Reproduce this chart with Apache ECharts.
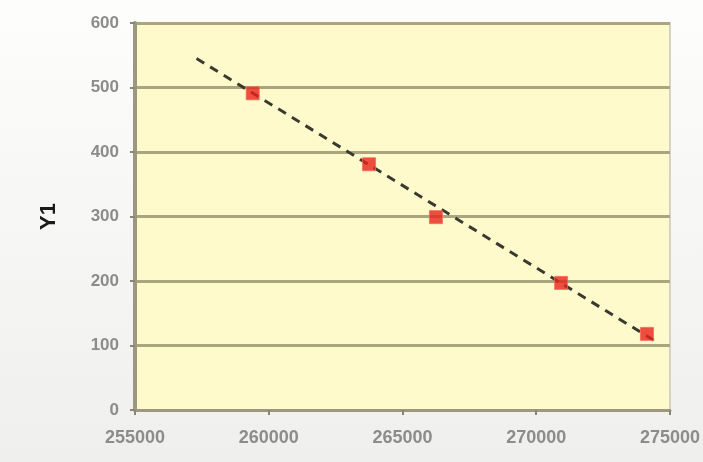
<!DOCTYPE html>
<html>
<head>
<meta charset="utf-8">
<script src="https://cdn.jsdelivr.net/npm/echarts@6/dist/echarts.min.js"></script>
<style>
html,body{margin:0;padding:0;background:#f7f7f5;}
#c{width:703px;height:462px;}
</style>
</head>
<body>
<div id="c"></div>
<script>
const xValues = [259400, 263750, 266250, 270930, 274140];
const yValues = [491, 381, 299, 197, 118];
const trendX = [257300, 274400];
const trendY = [545, 108];
const yTicks = [0, 100, 200, 300, 400, 500, 600];
const xTicks = [255000, 260000, 265000, 270000, 275000];

const chart = echarts.init(document.getElementById('c'));
chart.setOption({
  backgroundColor: {type:'linear', x:0, y:0, x2:0, y2:1, colorStops:[{offset:0,color:'#fdfdfc'},{offset:1,color:'#efefed'}]},
  animation: false,
  grid: {left:135, right:33, top:23, bottom:52, show:true, backgroundColor:'#fffacb', borderColor:'#d4d2c4', borderWidth:2},
  xAxis: {
    type:'value', min:xTicks[0], max:xTicks[xTicks.length-1], interval:5000,
    axisLine:{show:true, onZero:false, lineStyle:{color:'#9c9880', width:3}},
    axisTick:{show:true, length:5, lineStyle:{color:'#8a8670', width:2}},
    axisLabel:{color:'#8c8c8c', fontSize:18, fontFamily:'Liberation Sans', fontWeight:'bold', margin:19, formatter: v => String(v)},
    splitLine:{show:false}
  },
  yAxis: {
    type:'value', min:yTicks[0], max:yTicks[yTicks.length-1], interval:100,
    name:'Y1', nameLocation:'middle', nameGap:75, nameRotate:90,
    nameTextStyle:{color:'#1a1a1a', fontSize:22, fontWeight:700, fontFamily:'Liberation Sans'},
    axisLine:{show:true, onZero:false, lineStyle:{color:'#9c9880', width:4}},
    axisTick:{show:true, length:5, lineStyle:{color:'#8a8670', width:2}},
    axisLabel:{color:'#8c8c8c', fontSize:17, fontFamily:'Liberation Sans', fontWeight:'bold', margin:16, formatter: v => String(v)},
    splitLine:{show:true, lineStyle:{color:'#a9a57f', width:3}}
  },
  series: [
    {
      type:'line', data: trendX.map((x,i)=>[x, trendY[i]]), symbol:'none',
      lineStyle:{color:'#3a3a30', width:3, type:[9,7]}, z:2
    },
    {
      type:'scatter', data: xValues.map((x,i)=>[x, yValues[i]]), symbol:'rect', symbolSize:13,
      itemStyle:{color:'#e8231b', borderColor:'#f56a5a', borderWidth:1}, z:3
    }
  ]
});
</script>
</body>
</html>
